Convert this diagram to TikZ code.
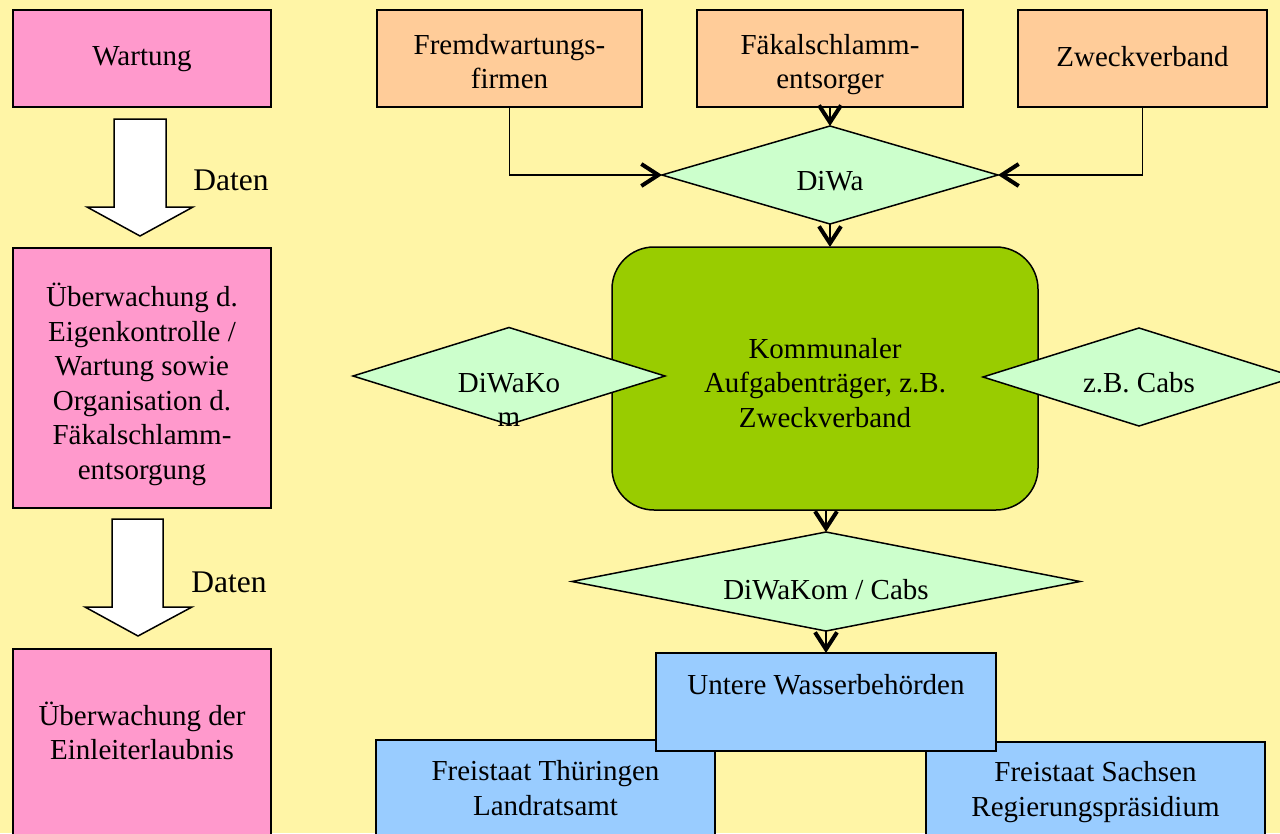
\documentclass[tikz,border=0pt]{standalone}
\usepackage{fontspec}
\setmainfont{Liberation Serif}
\usetikzlibrary{arrows.meta,shapes.geometric,calc}
\definecolor{bgc}{HTML}{FFF5A6}
\definecolor{pinkc}{HTML}{FF99CC}
\definecolor{orangec}{HTML}{FFCC99}
\definecolor{lgreen}{HTML}{CCFFCC}
\definecolor{dgreen}{HTML}{99CC00}
\definecolor{bluec}{HTML}{99CCFF}
\begin{document}
\begin{tikzpicture}[x=1pt,y=-1pt,
  every node/.style={inner sep=0pt, outer sep=0pt},
  box/.style={draw=black, line width=1.5pt, rectangle},
  dia/.style={draw=black, line width=1.5pt, diamond, fill=lgreen},
  txt/.style={font=\fontsize{29}{34.5}\selectfont, align=center, text=black},
  datenlbl/.style={font=\fontsize{31.5}{36}\selectfont, text=black},
  conn/.style={draw=black, line width=1.5pt, -{Straight Barb[length=17pt,width=22pt,line width=4pt]}},
  bigarrow/.style={draw=black, line width=1.5pt, fill=white, line join=miter}
]
\useasboundingbox (0,0) rectangle (1280,833);
\fill[bgc] (0,0) rectangle (1280,833);
\begin{scope}
\clip (0,0) rectangle (1280,833);

% left column
\node[box, fill=pinkc, minimum width=258pt, minimum height=97pt] (w1) at (142,58.5) {};
\node[box, fill=pinkc, minimum width=258pt, minimum height=260pt] (w2) at (142,378) {};
\node[box, fill=pinkc, minimum width=258pt, minimum height=251pt] (w3) at (142,774.5) {};
\node[txt] (w1t) at ($(w1.center)+(0,1)$) {Wartung};
\node[txt] (w2t) at ($(w2.center)+(0,6.5)$) {Überwachung d.\\Eigenkontrolle /\\Wartung sowie\\Organisation d.\\Fäkalschlamm-\\entsorgung};
\node[txt] (w3t) at ($(w3.north)+(0,82)$) {Überwachung der\\Einleiterlaubnis};

\draw[bigarrow] ($(w1.south)+(-28,12)$) -- ++(52,0) -- ++(0,88) -- ++(27,0)
  -- ($(w2.north)+(-2,-12)$) -- ++(-53,-29) -- ++(27,0) -- cycle;
\draw[bigarrow] ($(w2.south)+(-30,11)$) -- ++(51,0) -- ++(0,88) -- ++(29,0)
  -- ($(w3.north)+(-4,-13)$) -- ++(-53,-29) -- ++(27,0) -- cycle;
\node[datenlbl] (d1) at (231,180) {Daten};
\node[datenlbl] (d2) at (229,582) {Daten};

% top row
\node[box, fill=orangec, minimum width=265pt, minimum height=97pt] (fw) at (509.5,58.5) {};
\node[box, fill=orangec, minimum width=266pt, minimum height=97pt] (fs) at (830,58.5) {};
\node[box, fill=orangec, minimum width=249pt, minimum height=97pt] (zv) at (1142.5,58.5) {};
\node[txt] (fwt) at ($(fw.center)+(0,3)$) {Fremdwartungs-\\firmen};
\node[txt] (fst) at ($(fs.center)+(0,6)$) {Fäkalschlamm-\\entsorger};
\node[txt] (zvt) at ($(zv.center)+(0,-1.5)$) {Zweckverband};

% DiWa
\node[dia, minimum width=336pt, minimum height=98pt] (diwa) at (830,175) {};
\node[txt] (diwat) at ($(diwa.center)+(0,6)$) {DiWa};

% green box
\node[box, fill=dgreen, rounded corners=42pt, minimum width=426pt, minimum height=263pt] (kom) at (825,378.5) {};
\node[txt] (komt) at ($(kom.center)+(0,4.5)$) {Kommunaler\\Aufgabenträger, z.B.\\Zweckverband};

% side diamonds
\node[dia, minimum width=312pt, minimum height=97pt] (dk) at (509,376) {};
\node[txt] (dkt) at ($(dk.center)+(0,24)$) {DiWaKo\\m};
\node[dia, minimum width=312pt, minimum height=98pt] (cabs) at (1139,377) {};
\node[txt] (cabst) at ($(cabs.center)+(0,6)$) {z.B. Cabs};

% DiWaKom / Cabs
\node[dia, minimum width=508pt, minimum height=99pt] (dc) at (826,581.5) {};
\node[txt] (dct) at ($(dc.center)+(0,8.5)$) {DiWaKom / Cabs};

% bottom blue boxes
\node[box, fill=bluec, minimum width=339pt, minimum height=160pt] (thu) at (545.5,820) {};
\node[box, fill=bluec, minimum width=339pt, minimum height=158pt] (sax) at (1095.5,821) {};
\node[box, fill=bluec, minimum width=340pt, minimum height=98pt] (uwb) at (826,702) {};
\node[txt] (thut) at ($(thu.north)+(0,48)$) {Freistaat Thüringen\\Landratsamt};
\node[txt] (saxt) at ($(sax.north)+(0,50)$) {Freistaat Sachsen\\Regierungspräsidium};
\node[txt] (uwbt) at ($(uwb.north)+(0,32)$) {Untere Wasserbehörden};

% connectors
\draw[conn] (fw.south) |- (diwa.west);
\draw[conn] (fs.south) -- (diwa.north);
\draw[conn] (zv.south) |- (diwa.east);
\draw[conn] (diwa.south) -- (diwa.south |- kom.north);
\draw[conn] (dc.north |- kom.south) -- (dc.north);
\draw[conn] (dc.south) -- (uwb.north);
\end{scope}
\end{tikzpicture}
\end{document}
